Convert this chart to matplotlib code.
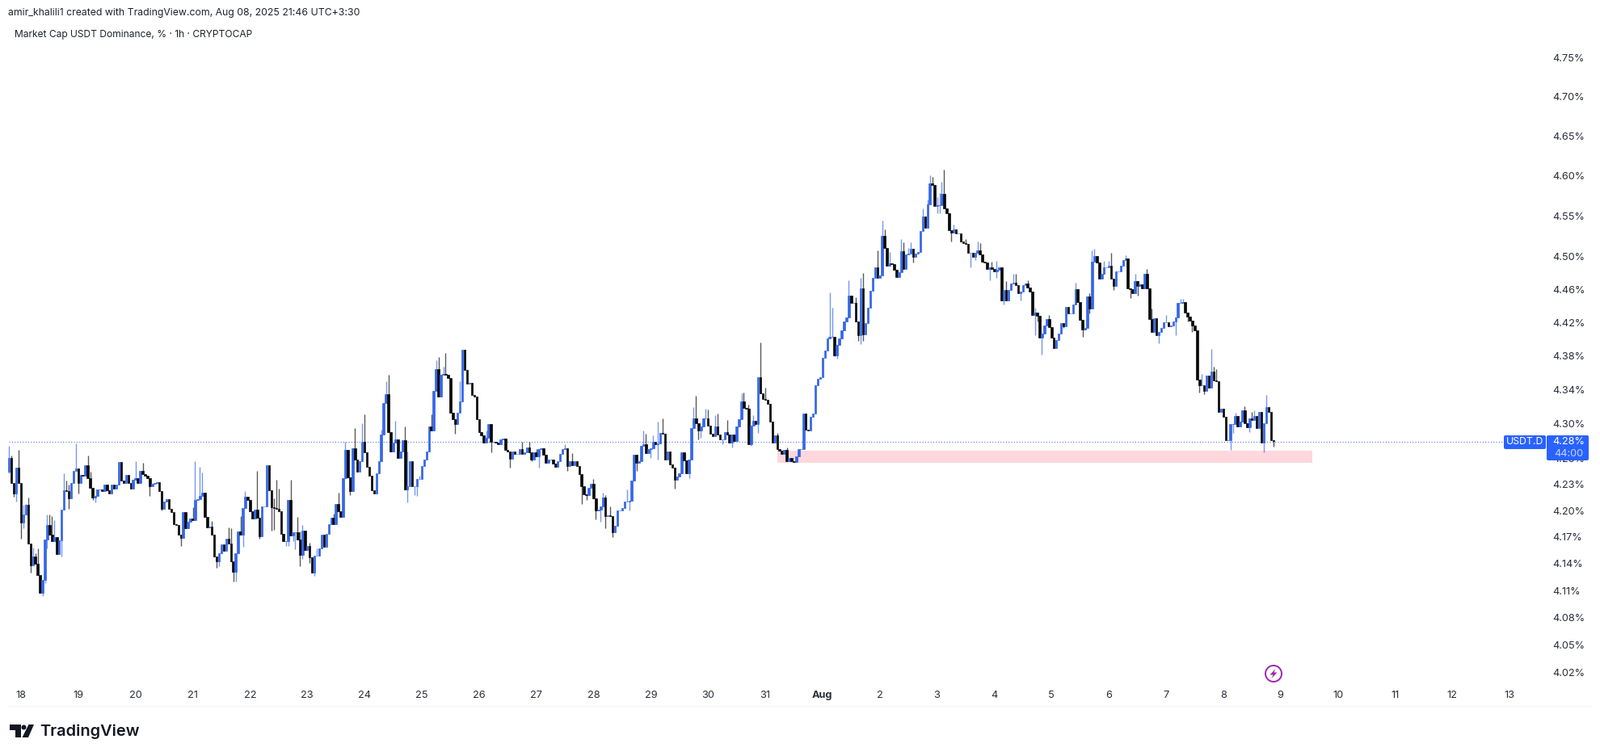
import matplotlib
matplotlib.use("Agg")
import matplotlib.pyplot as plt
from matplotlib.patches import Circle, FancyBboxPatch, Polygon, Rectangle
from matplotlib.ticker import FixedLocator, NullLocator, FixedFormatter
import numpy as np

plt.rcParams['font.family'] = ['Inter', 'Liberation Sans', 'DejaVu Sans']

first_open = 4.245
closes_a = [4.261,4.232,4.220,4.249,4.232,4.186,4.196,4.207,4.163,4.138,4.148,4.140,4.127,4.107,4.122,4.167,4.184,4.173,4.165,4.170,
 4.151,4.166,4.201,4.223,4.222,4.214,4.232,4.246,4.248,4.232,4.241,4.240,4.252,4.237,4.226,4.215,4.217,4.224,4.224,4.222,
 4.230,4.223,4.220,4.230,4.225,4.230,4.256,4.234,4.232,4.241,4.232,4.225,4.235,4.237,4.232,4.246,4.242,4.240,4.237,4.228,
 4.231,4.232,4.233,4.222,4.202,4.210,4.213,4.202,4.198,4.185,4.184,4.173,4.169,4.198,4.180,4.187,4.191,4.189,4.212,4.213,
 4.217,4.221,4.193,4.181,4.182,4.173,4.148,4.143,4.152,4.162,4.154,4.168,4.163,4.143,4.131,4.152,4.176,4.173,4.203,4.216,
 4.212,4.199,4.191,4.201,4.192,4.171,4.205,4.205,4.252,4.223,4.204]
closes_b = [4.203,4.202,4.199,4.174,4.165,4.165,4.212,4.172,4.175,4.175,4.167,4.150,4.177,4.155,4.160,4.147,4.130,4.149,4.149,
 4.157,4.173,4.159,4.174,4.185,4.192,4.185,4.208,4.199,4.193,4.237,4.270,4.238,4.222,4.272,4.259,4.245,4.257,4.279,4.267,
 4.250,4.240,4.223,4.220,4.243,4.257,4.288,4.325,4.335,4.291,4.268,4.278,4.282,4.261,4.268,4.281,4.224,4.228,4.257,4.228,
 4.228,4.236,4.236,4.251,4.259,4.268,4.297,4.292,4.339,4.365,4.332,4.358,4.359,4.358,4.354,4.313,4.306,4.300,4.313,4.326,
 4.388,4.364,4.347,4.348,4.334,4.332,4.306,4.291,4.287,4.278,4.284,4.300,4.279,4.279,4.278,4.276,4.282,4.283,4.270,4.268,
 4.260,4.268,4.265,4.265,4.271,4.265,4.267,4.273,4.267,4.259,4.267,4.262]
closes_c = [4.271,4.272,4.264,4.255,4.259,4.259,4.254,4.250,4.257,4.265,4.271,4.272,4.251,4.257,4.252,4.257,4.251,4.242,4.228,4.219,
 4.218,4.226,4.231,4.214,4.200,4.201,4.205,4.215,4.194,4.195,4.194,4.175,4.183,4.200,4.200,4.203,4.210,4.210,4.211,4.234,
 4.264,4.255,4.257,4.275,4.276,4.266,4.271,4.272,4.279,4.276,4.277,4.290,4.289,4.259,4.268,4.253,4.249,4.235,4.239,4.243,
 4.267,4.258,4.243,4.259,4.295,4.307,4.301,4.292,4.297,4.307,4.307,4.298,4.289,4.286,4.297,4.288,4.282,4.282,4.291,4.288,
 4.278,4.288,4.280,4.297,4.306,4.326,4.319,4.318,4.276,4.298,4.304,4.300,4.355,4.336,4.329,4.328,4.324,4.303,4.278,4.287,
 4.271,4.269,4.265,4.270,4.257,4.261,4.257,4.256,4.262,4.271,4.271,4.312,4.293]
closes_d = [4.292,4.308,4.312,4.345,4.353,4.355,4.378,4.387,4.401,4.403,4.403,4.381,4.393,4.401,4.411,4.421,4.426,4.453,4.444,4.444,
 4.421,4.405,4.461,4.406,4.419,4.438,4.458,4.474,4.487,4.474,4.477,4.525,4.511,4.489,4.492,4.491,4.484,4.475,4.481,4.507,
 4.485,4.503,4.504,4.510,4.500,4.504,4.506,4.531,4.549,4.535,4.564,4.590,4.588,4.562,4.563,4.563,4.577,4.559,4.553,4.532,
 4.529,4.533,4.528,4.528,4.518,4.516,4.515,4.505,4.505,4.500,4.505,4.508,4.503,4.494,4.493,4.485,4.487,4.485,4.482,4.484,
 4.487,4.447,4.459,4.447,4.459,4.467,4.468,4.465,4.455,4.457,4.465,4.467,4.462,4.457,4.429,4.432,4.428,4.402,4.407,4.417,
 4.424,4.415,4.402,4.390,4.399,4.407,4.419,4.416,4.439]
closes_e = [4.431,4.431,4.442,4.460,4.445,4.423,4.412,4.414,4.452,4.437,4.494,4.501,4.493,4.473,4.479,4.487,4.487,4.489,4.473,4.464,
 4.482,4.482,4.489,4.496,4.498,4.461,4.460,4.455,4.470,4.464,4.466,4.461,4.479,4.461,4.424,4.409,4.425,4.405,4.409,4.414,
 4.420,4.420,4.416,4.417,4.421,4.426,4.444,4.444,4.445,4.432,4.427,4.422,4.417,4.411,4.352,4.345,4.345,4.339,4.357,4.343,
 4.362,4.351,4.350,4.314,4.318,4.308,4.281,4.281,4.300,4.300,4.309,4.297,4.303,4.316,4.301,4.296,4.307,4.305,4.309,4.295,
 4.314,4.278,4.301,4.320,4.314,4.281,4.280]

wick_highs = {0:4.275,1:4.263,4:4.270,6:4.207,7:4.208,8:4.215,10:4.158,11:4.152,12:4.157,16:4.196,17:4.196,18:4.194,19:4.189,
 23:4.243,24:4.234,25:4.230,28:4.277,33:4.263,34:4.245,53:4.257,56:4.255,77:4.204,78:4.257,80:4.250,81:4.244,85:4.188,92:4.181,
 93:4.180,97:4.194,99:4.222,104:4.246,111:4.214,112:4.235,113:4.225,118:4.235,121:4.193,122:4.176,123:4.184,126:4.164,129:4.157,
 136:4.197,138:4.221,141:4.279,145:4.295,148:4.301,149:4.311,156:4.293,158:4.350,159:4.358,162:4.304,166:4.297,167:4.268,172:4.240,
 177:4.311,179:4.375,180:4.379,182:4.367,183:4.384,189:4.350,200:4.292,215:4.279,218:4.279,221:4.271,233:4.276,236:4.266,245:4.236,
 249:4.221,250:4.218,252:4.205,259:4.224,266:4.292,267:4.289,270:4.287,272:4.303,274:4.307,287:4.320,288:4.333,292:4.318,293:4.317,
 296:4.310,297:4.312,301:4.305,307:4.336,308:4.337,310:4.323,312:4.310,315:4.396,317:4.343,322:4.290,326:4.273,344:4.456,345:4.438,
 352:4.471,355:4.451,357:4.474,358:4.480,364:4.508,366:4.544,367:4.533,369:4.506,374:4.521,375:4.517,377:4.511,378:4.517,383:4.559,
 385:4.570,386:4.600,387:4.598,389:4.573,390:4.578,391:4.592,392:4.607,396:4.539,401:4.521,406:4.518,407:4.516,412:4.494,414:4.495,
 418:4.470,421:4.479,422:4.479,427:4.471,430:4.438,436:4.429,447:4.468,453:4.455,454:4.508,455:4.510,459:4.495,461:4.495,462:4.505,
 468:4.502,472:4.479,477:4.485,479:4.437,485:4.429,491:4.449,492:4.449,500:4.359,504:4.389,505:4.367,506:4.365,514:4.313,518:4.321,
 521:4.314,522:4.316,527:4.334}
wick_lows = {0:4.243,2:4.216,3:4.210,5:4.168,6:4.180,9:4.130,14:4.104,15:4.118,16:4.157,22:4.148,25:4.202,29:4.220,35:4.212,36:4.209,
 59:4.217,64:4.200,72:4.160,87:4.135,88:4.137,94:4.120,95:4.120,98:4.159,105:4.168,110:4.177,111:4.178,116:4.160,117:4.160,119:4.165,
 120:4.156,122:4.137,123:4.145,126:4.141,128:4.126,143:4.218,167:4.209,170:4.218,171:4.217,187:4.289,202:4.267,210:4.249,219:4.257,
 222:4.249,234:4.246,240:4.208,242:4.212,246:4.190,248:4.187,250:4.180,253:4.170,260:4.200,263:4.246,269:4.261,272:4.259,279:4.225,
 285:4.237,289:4.282,290:4.284,299:4.276,303:4.273,311:4.275,314:4.290,346:4.380,347:4.377,356:4.398,357:4.394,358:4.398,379:4.493,
 389:4.553,390:4.553,395:4.518,403:4.487,405:4.496,411:4.471,414:4.474,417:4.442,424:4.447,430:4.405,431:4.421,433:4.382,442:4.414,
 450:4.403,453:4.431,463:4.459,470:4.450,473:4.453,482:4.395,489:4.405,494:4.421,496:4.409,499:4.337,501:4.335,512:4.270,513:4.290,
 520:4.291,526:4.267,530:4.274}

y_ticks = [4.02,4.05,4.08,4.11,4.14,4.17,4.20,4.23,4.26,4.30,4.34,4.38,4.42,4.46,4.50,4.55,4.60,4.65,4.70,4.75]
x_day_labels = ['18','19','20','21','22','23','24','25','26','27','28','29','30','31','Aug','2','3','4','5','6','7','8','9','10','11','12','13']
last_price = 4.279
zone_low, zone_high = 4.255, 4.269
zone_first_bar, zone_last_bar = 322, 546.3
first_day_bar = 5
bars_per_day = 24

closes = np.array(closes_a + closes_b + closes_c + closes_d + closes_e)
opens = np.concatenate([[first_open], closes[:-1]])
idx = np.arange(len(closes))
highs = np.maximum(opens, closes)
lows = np.minimum(opens, closes)
for k, v in wick_highs.items():
    highs[k] = max(highs[k], v)
for k, v in wick_lows.items():
    lows[k] = min(lows[k], v)

W, H = 1980, 936
BLUE, DARK, TXT = '#3567E6', '#0A0A0A', '#2A2E39'
fig = plt.figure(figsize=(W/100, H/100), dpi=100, facecolor='white')

# price pane: 26..874 px high, 0..1905 px wide
pane_top, pane_bot, pane_r = 26, 874, 1905
ax = fig.add_axes([0, 1-pane_bot/H, pane_r/W, (pane_bot-pane_top)/H])
ax.set_yscale('log')
K = 4560.0
ax.set_ylim(4.02*np.exp((832-pane_bot)/K), 4.02*np.exp((832-pane_top)/K))
bar_px = 2.952
ax.set_xlim(first_day_bar-26/bar_px, first_day_bar+(pane_r-26)/bar_px)

ax.add_patch(Rectangle((zone_first_bar, zone_low), zone_last_bar-zone_first_bar, zone_high-zone_low,
                       facecolor='#FFD7DC', edgecolor='none', zorder=1))
ax.hlines(last_price, 0, ax.get_xlim()[1], colors='#4C6FE0', linestyles=(0, (1, 2)), linewidth=0.8, zorder=1.5)

up = closes >= opens
colors = np.where(up, BLUE, DARK)
ax.vlines(idx, lows, highs, colors=colors, linewidth=1.0, alpha=0.68, zorder=2)
ax.bar(idx, np.abs(closes-opens), bottom=np.minimum(opens, closes), width=0.85,
       color=colors, edgecolor=colors, linewidth=0.5, zorder=3)

for s in ax.spines.values():
    s.set_visible(False)
ax.yaxis.tick_right()
ax.yaxis.set_major_locator(FixedLocator(y_ticks))
ax.yaxis.set_major_formatter(FixedFormatter([f'{v:.2f}%' for v in y_ticks]))
ax.yaxis.set_minor_locator(NullLocator())
ax.tick_params(axis='y', length=0, pad=12, labelsize=9.2, labelcolor=TXT)
day_pos = [first_day_bar + bars_per_day*k for k in range(len(x_day_labels))]
ax.set_xticks(day_pos)
ax.set_xticklabels(x_day_labels)
ax.tick_params(axis='x', length=0, pad=-14, labelsize=9.2, labelcolor=TXT)
for t in ax.get_xticklabels():
    if t.get_text() == 'Aug':
        t.set_fontweight('bold')
ax.patch.set_alpha(0)

# overlay in pixel units for chart chrome
ov = fig.add_axes([0, 0, 1, 1], facecolor='none')
ov.set_xlim(0, W); ov.set_ylim(H, 0); ov.axis('off')
ov.plot([10, 1970], [874, 874], color='#F4F4F4', lw=0.8)
ov.text(10, 16, 'amir_khalili1 created with TradingView.com, Aug 08, 2025 21:46 UTC+3:30', fontsize=8.8, color='#1E222D', va='center')
ov.text(18, 43, 'Market Cap USDT Dominance, % · 1h · CRYPTOCAP', fontsize=8.65, color='#1E222D', va='center')

box = dict(boxstyle='round,pad=0,rounding_size=2', facecolor='#2962FF', edgecolor='none')
ov.add_patch(FancyBboxPatch((1861, 539), 52, 17, **box))
ov.add_patch(FancyBboxPatch((1914, 539), 52, 31, **box))
ov.text(1887, 547.5, 'USDT.D', color='white', fontsize=8.8, ha='center', va='center')
ov.text(1941.5, 547.5, '4.28%', color='white', fontsize=9.2, ha='center', va='center')
ov.text(1941.5, 562, '44:00', color='#C3D3FF', fontsize=9.2, ha='center', va='center')

# lightning badge
ov.add_patch(Circle((1576, 834), 10, facecolor='white', edgecolor='#9C27B0', lw=1.4))
ov.add_patch(Polygon([(1578.5, 828), (1571.5, 835.5), (1575.5, 835.5), (1573.5, 840), (1580.5, 832.5), (1576.5, 832.5)],
                     closed=True, facecolor='#9C27B0', edgecolor='none'))

# TradingView logo
logo = '#131722'
ov.add_patch(Polygon([(12, 897), (26, 897), (26, 913), (19, 913), (19, 904), (12, 904)], closed=True, facecolor=logo, edgecolor='none'))
ov.add_patch(Circle((29.5, 900.5), 3, facecolor=logo, edgecolor='none'))
ov.add_patch(Polygon([(35.5, 897), (42, 897), (35, 913), (27.5, 913)], closed=True, facecolor=logo, edgecolor='none'))
ov.text(49, 905.5, 'TradingView', fontsize=14.4, fontweight='semibold', color=logo, va='center')

fig.savefig('out.png', dpi=100, facecolor='white')
